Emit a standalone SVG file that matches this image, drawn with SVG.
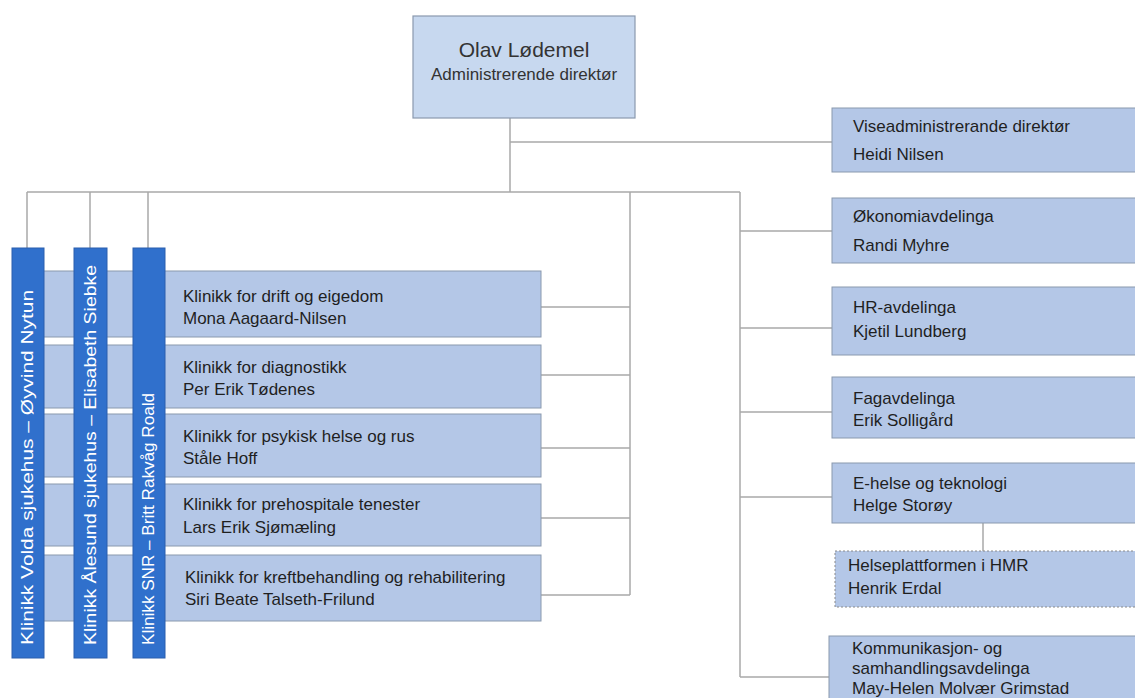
<svg xmlns="http://www.w3.org/2000/svg" width="1135" height="698" viewBox="0 0 1135 698">
<style>
text{font-family:"Liberation Sans",Arial,sans-serif;fill:#1f1f1f;font-size:17px}
.box{fill:#b4c7e7;stroke:#8a99ae;stroke-width:1}
.top{fill:#c7d8ef;stroke:#8a99ae;stroke-width:1.2}
.dash{fill:#b4c7e7;stroke:#8a8a8a;stroke-width:1;stroke-dasharray:2 2}
.bar{fill:#3070cc;stroke:#2a5fae;stroke-width:1}
.bt{fill:#ffffff;font-size:17px}
.c line{stroke:#a8a8a8;stroke-width:1.5;fill:none}
</style>
<rect width="1135" height="698" fill="#ffffff"/>
<g class="c" id="connectors">
<line x1="510" y1="118" x2="510" y2="192"/>
<line x1="510" y1="142" x2="832" y2="142"/>
<line x1="27" y1="192" x2="740" y2="192"/>
<line x1="27" y1="192" x2="27" y2="248"/>
<line x1="90" y1="192" x2="90" y2="248"/>
<line x1="148" y1="192" x2="148" y2="248"/>
<line x1="630" y1="192" x2="630" y2="595"/>
<line x1="541" y1="307" x2="630" y2="307"/>
<line x1="541" y1="375" x2="630" y2="375"/>
<line x1="541" y1="448" x2="630" y2="448"/>
<line x1="541" y1="518" x2="630" y2="518"/>
<line x1="541" y1="595" x2="630" y2="595"/>
<line x1="740" y1="192" x2="740" y2="677"/>
<line x1="740" y1="231" x2="832" y2="231"/>
<line x1="740" y1="328" x2="832" y2="328"/>
<line x1="740" y1="412" x2="832" y2="412"/>
<line x1="740" y1="497" x2="832" y2="497"/>
<line x1="740" y1="677" x2="829" y2="677"/>
<line x1="983" y1="523" x2="983" y2="551"/>
</g>
<g id="ceo">
<rect class="top" x="413" y="16" width="222" height="102"/>
<text x="524" y="57" text-anchor="middle" style="font-size:21px;fill:#333">Olav Lødemel</text>
<text x="524" y="80" text-anchor="middle" style="font-size:17px;fill:#333">Administrerende direktør</text>
</g>
<g id="klinikk-drift">
<rect class="box" x="20" y="271" width="521" height="66"/>
<text x="183" y="302">Klinikk for drift og eigedom</text>
<text x="183" y="324">Mona Aagaard-Nilsen</text>
</g>
<g id="klinikk-diagnostikk">
<rect class="box" x="20" y="345" width="521" height="63"/>
<text x="183" y="373">Klinikk for diagnostikk</text>
<text x="183" y="395">Per Erik Tødenes</text>
</g>
<g id="klinikk-psykisk">
<rect class="box" x="20" y="414" width="521" height="63"/>
<text x="183" y="442">Klinikk for psykisk helse og rus</text>
<text x="183" y="464">Ståle Hoff</text>
</g>
<g id="klinikk-prehospitale">
<rect class="box" x="20" y="484" width="521" height="62"/>
<text x="183" y="510">Klinikk for prehospitale tenester</text>
<text x="183" y="533">Lars Erik Sjømæling</text>
</g>
<g id="klinikk-kreft">
<rect class="box" x="20" y="555" width="521" height="66"/>
<text x="185" y="583">Klinikk for kreftbehandling og rehabilitering</text>
<text x="185" y="605">Siri Beate Talseth-Frilund</text>
</g>
<g id="bar-volda">
<rect class="bar" x="12" y="248" width="32" height="410"/>
<text class="bt" transform="translate(33,645) rotate(-90)" textLength="355" lengthAdjust="spacingAndGlyphs">Klinikk Volda sjukehus – Øyvind Nytun</text>
</g>
<g id="bar-alesund">
<rect class="bar" x="74" y="248" width="33" height="410"/>
<text class="bt" transform="translate(96,645) rotate(-90)" textLength="380" lengthAdjust="spacingAndGlyphs">Klinikk Ålesund sjukehus – Elisabeth Siebke</text>
</g>
<g id="bar-snr">
<rect class="bar" x="133" y="248" width="32" height="410"/>
<text class="bt" transform="translate(154,645) rotate(-90)" textLength="252" lengthAdjust="spacingAndGlyphs">Klinikk SNR – Britt Rakvåg Roald</text>
</g>
<g id="vise">
<rect class="box" x="832" y="108" width="310" height="64"/>
<text x="853" y="132">Viseadministrerande direktør</text>
<text x="853" y="160">Heidi Nilsen</text>
</g>
<g id="okonomi">
<rect class="box" x="832" y="198" width="310" height="65"/>
<text x="853" y="222">Økonomiavdelinga</text>
<text x="853" y="251">Randi Myhre</text>
</g>
<g id="hr">
<rect class="box" x="832" y="287" width="310" height="68"/>
<text x="853" y="313">HR-avdelinga</text>
<text x="853" y="337">Kjetil Lundberg</text>
</g>
<g id="fag">
<rect class="box" x="832" y="377" width="310" height="61"/>
<text x="853" y="404">Fagavdelinga</text>
<text x="853" y="426">Erik Solligård</text>
</g>
<g id="ehelse">
<rect class="box" x="832" y="463" width="310" height="60"/>
<text x="853" y="489">E-helse og teknologi</text>
<text x="853" y="511">Helge Storøy</text>
</g>
<g id="helseplattformen">
<rect class="dash" x="835" y="551" width="310" height="56"/>
<text x="848" y="571">Helseplattformen i HMR</text>
<text x="848" y="594">Henrik Erdal</text>
</g>
<g id="kommunikasjon">
<rect class="box" x="829" y="636" width="320" height="80"/>
<text x="852" y="654">Kommunikasjon- og</text>
<text x="852" y="674">samhandlingsavdelinga</text>
<text x="852" y="694">May-Helen Molvær Grimstad</text>
</g>
</svg>
